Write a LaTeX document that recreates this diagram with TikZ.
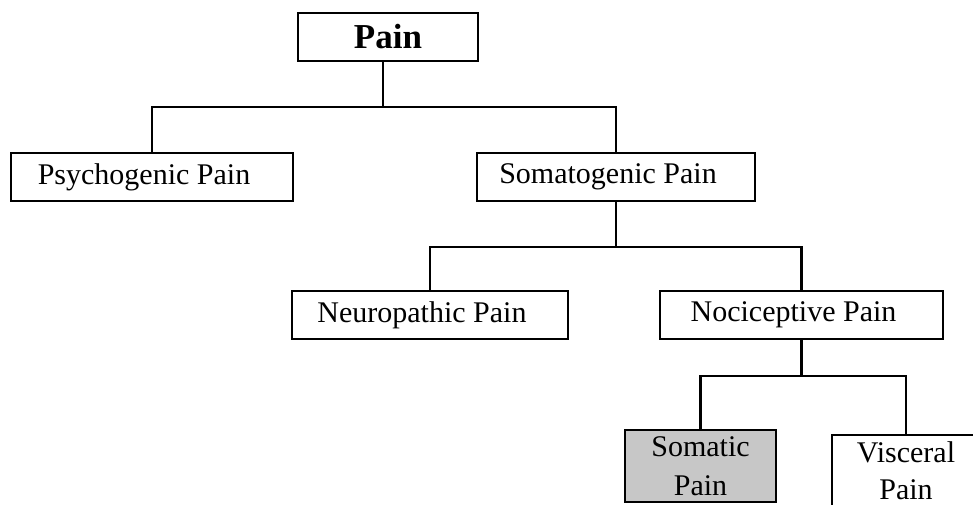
\documentclass[tikz,border=0pt]{standalone}
\usepackage{fontspec}
\setmainfont{Liberation Serif}

\tikzset{
  painbox/.style={draw, line width=2.8pt, inner sep=0pt, align=center,
    font=\fontsize{30}{40}\selectfont},
  leftish/.style={execute at end node=\hspace*{16pt}},
  branch/.style={line width=2.8pt}
}

\begin{document}
\begin{tikzpicture}[x=1pt, y=-1pt]
\useasboundingbox (0,0) rectangle (973,505);
\clip (0,0) rectangle (973,505);

% ── Raíz ──────────────────────────────────────────────────────
\node[painbox, minimum width=180, minimum height=48,
      font=\fontsize{35}{40}\selectfont\bfseries] (pain) at (388,37) {Pain};

% ── Primer nivel ──────────────────────────────────────────────
\node[painbox, leftish, minimum width=282, minimum height=48] (psycho)
    at (152,177) {Psychogenic Pain};
\node[painbox, leftish, minimum width=278, minimum height=48] (somato)
    at (616,177) {Somatogenic Pain};

% ── Segundo nivel ─────────────────────────────────────────────
\node[painbox, leftish, minimum width=276, minimum height=48] (neuro)
    at (430,315) {Neuropathic Pain};
\node[painbox, leftish, minimum width=283, minimum height=48] (noci)
    at (801.5,315) {Nociceptive Pain};

% ── Tercer nivel ──────────────────────────────────────────────
\node[painbox, fill=black!22, minimum width=151, minimum height=72,
      font=\fontsize{30}{39}\selectfont]
    (somatic) at (700.5,466) {Somatic\\Pain};
\node[painbox, minimum width=148, minimum height=72,
      font=\fontsize{30}{37}\selectfont]
    (visceral) at (906,471) {Visceral\\Pain};

% ── Ramas ─────────────────────────────────────────────────────
\coordinate (j1) at (383,107);
\coordinate (j2) at (616,247);
\coordinate (j3) at (801.5,376);

\draw[branch] (j1 |- pain.south) -- (j1);
\draw[branch] (psycho.north) |- (j1) -| (somato.north);

\draw[branch] (somato.south) -- (j2);
\draw[branch] (neuro.north) |- (j2) -| (noci.north);

\draw[branch] (noci.south) -- (j3);
\draw[branch] (somatic.north) |- (j3) -| (visceral.north);

\end{tikzpicture}
\end{document}
